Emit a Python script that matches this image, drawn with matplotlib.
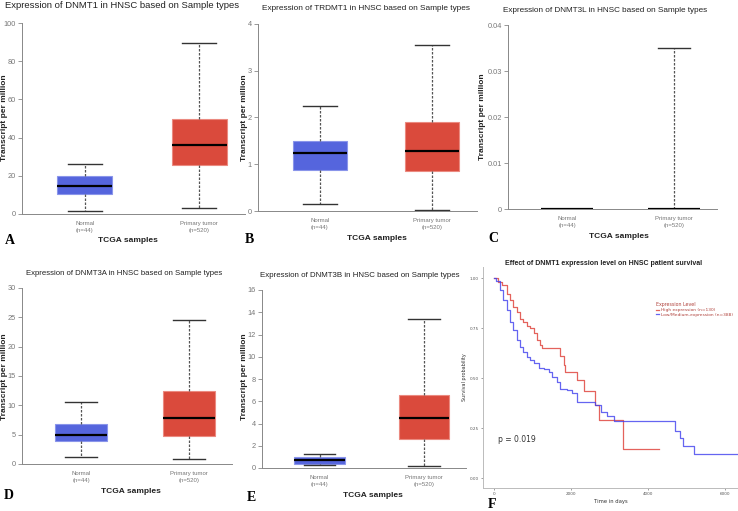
import matplotlib
matplotlib.use('Agg')
import matplotlib.pyplot as plt
from matplotlib import font_manager

# box plot summaries (TPM)
genes = ['DNMT1', 'TRDMT1', 'DNMT3L', 'DNMT3A', 'DNMT3B']
normal_low = [1.5, 0.15, 0.0, 1.2, 0.25]
normal_q1 = [10.5, 0.87, 0.0, 4.0, 0.40]
normal_med = [14.5, 1.25, 0.0, 5.0, 0.70]
normal_q3 = [19.8, 1.49, 0.0, 6.8, 1.00]
normal_high = [26.3, 2.25, 0.0, 10.5, 1.25]
tumor_low = [3.0, 0.03, 0.0, 0.8, 0.15]
tumor_q1 = [25.8, 0.85, 0.0, 4.8, 2.6]
tumor_med = [36.0, 1.28, 0.0, 7.8, 4.45]
tumor_q3 = [49.5, 1.90, 0.0, 12.4, 6.6]
tumor_high = [89.7, 3.55, 0.035, 24.5, 13.4]
y_max = [100, 4, 0.04, 30, 16]
y_step = [20, 1, 0.01, 5, 2]
y_fmt = ['%d', '%d', '%g', '%d', '%d']
sample_labels = ['Normal\n(n=44)', 'Primary tumor\n(n=520)']
panel_letters = ['A', 'B', 'C', 'D', 'E']

# Kaplan-Meier curves (days, survival probability)
hi_days = [0, 113, 200, 330, 418, 505, 592, 679, 766, 853, 940, 1027, 1114, 1200, 1244,
           1723, 1810, 1853, 2158, 2349, 2619, 2740, 3358, 4280]
hi_surv = [1.0, 0.980, 0.963, 0.922, 0.889, 0.855, 0.831, 0.797, 0.781, 0.759, 0.752, 0.723,
           0.689, 0.664, 0.648, 0.610, 0.565, 0.532, 0.490, 0.437, 0.365, 0.290, 0.146, 0.146]
lo_days = [0, 60, 157, 244, 330, 418, 505, 592, 679, 766, 853, 940, 1027, 1157, 1288, 1418,
           1505, 1636, 1723, 1897, 2027, 2158, 2636, 2767, 2941, 3115, 4707, 4828, 4898, 5203, 6400]
lo_surv = [1.0, 0.985, 0.938, 0.889, 0.839, 0.781, 0.739, 0.689, 0.656, 0.631, 0.606, 0.590,
           0.573, 0.548, 0.543, 0.532, 0.507, 0.482, 0.444, 0.440, 0.424, 0.382, 0.365, 0.332,
           0.312, 0.287, 0.233, 0.199, 0.158, 0.121, 0.121]

names = {f.name for f in font_manager.fontManager.ttflist}
narrow = 'Liberation Sans Narrow' if 'Liberation Sans Narrow' in names else 'Liberation Sans'
tscale = 1.14 if narrow == 'Liberation Sans Narrow' else 1.0

W, H = 738.0, 511.0
fig = plt.figure(figsize=(7.38, 5.11), dpi=100)


def box(l, t, r, b):
    return [l / W, 1 - b / H, (r - l) / W, (b - t) / H]


def ftext(x, y, s, **kw):
    fig.text(x / W, 1 - y / H, s, **kw)


# pixel boxes: left, top, right, bottom
axes_px = [(22, 23, 245, 214), (258, 24, 477, 211), (508, 25, 717, 209),
           (22, 288, 232, 464), (262, 290, 466, 468)]
title_pos = [(122, 6), (366, 9), (605, 10), (124, 273), (360, 275)]
title_size = [6.8, 5.95, 5.85, 5.6, 5.65]
ylab_pos = [(5, 118), (245, 118), (483, 117), (5, 377), (244, 377)]
xlab_pos = [(128, 240), (377, 238), (619, 236), (131, 491), (373, 495)]
letter_pos = [(10, 241), (249, 239), (493, 238), (9, 495), (251, 497)]

blue, red = '#5565DD', '#DA4A3C'
for i in range(5):
    ax = fig.add_axes(box(*axes_px[i]))
    stats = [
        dict(whislo=normal_low[i], q1=normal_q1[i], med=normal_med[i], q3=normal_q3[i], whishi=normal_high[i]),
        dict(whislo=tumor_low[i], q1=tumor_q1[i], med=tumor_med[i], q3=tumor_q3[i], whishi=tumor_high[i]),
    ]
    bp = ax.bxp(stats, positions=[1, 2], widths=0.48, showfliers=False, patch_artist=True,
                whiskerprops=dict(color='#555555', lw=0.9, linestyle=(0, (2, 1.2))),
                capprops=dict(color='#333333', lw=1.0),
                medianprops=dict(color='black', lw=1.6),
                capwidths=0.3)
    for patch, c, ec in zip(bp['boxes'], [blue, red], ['#8A95EA', '#EB8A80']):
        patch.set_facecolor(c)
        patch.set_edgecolor(ec)
        patch.set_linewidth(0.8)
    ax.set_xlim(0.45, 2.4)
    ax.set_ylim(0, y_max[i])
    ticks = [k * y_step[i] for k in range(int(round(y_max[i] / y_step[i])) + 1)]
    ax.set_yticks(ticks)
    ax.set_yticklabels([y_fmt[i] % v for v in ticks], fontsize=5.3, color='#777777', family=narrow)
    ax.set_xticks([1, 2])
    ax.set_xticklabels(sample_labels, fontsize=4.3, color='#777777', family=narrow, linespacing=1.5)
    ax.tick_params(axis='x', length=0, pad=5)
    ax.tick_params(axis='y', length=3, width=0.6, color='#888888', pad=1.5)
    for s in ['top', 'right']:
        ax.spines[s].set_visible(False)
    for s in ['left', 'bottom']:
        ax.spines[s].set_color('#888888')
        ax.spines[s].set_linewidth(0.7)
    ax.set_facecolor('none')
    ftext(*title_pos[i], 'Expression of %s in HNSC based on Sample types' % genes[i],
          ha='center', va='center', fontsize=title_size[i] * tscale, family=narrow, color='#222222')
    ftext(*ylab_pos[i], 'Transcript per million', ha='center', va='center', rotation=90,
          fontsize=6, fontweight='bold', family='Liberation Sans', color='#222222')
    ftext(*xlab_pos[i], 'TCGA samples', ha='center', va='center', fontsize=6,
          fontweight='bold', family='Liberation Sans', color='#222222')
    ftext(*letter_pos[i], panel_letters[i], ha='center', va='center', fontsize=10,
          fontweight='bold', family='Liberation Serif')

# survival panel
axf = fig.add_axes(box(483, 267, 738, 488))
axf.step(hi_days, hi_surv, where='post', color='#E0473F', lw=0.9, alpha=0.85,
         label='High expression (n=130)')
axf.step(lo_days, lo_surv, where='post', color='#3F3FEE', lw=0.9, alpha=0.8,
         label='Low/Medium-expression (n=388)')
axf.set_xlim(-286, 6338)
axf.set_ylim(-0.05, 1.055)
axf.set_xticks([0, 2000, 4000, 6000])
axf.set_yticks([0, 0.25, 0.5, 0.75, 1.0])
axf.set_yticklabels(['0.00', '0.25', '0.50', '0.75', '1.00'])
axf.tick_params(labelsize=3, colors='#555555', length=1.5, width=0.4, pad=1.5)
for s in ['top', 'right']:
    axf.spines[s].set_visible(False)
for s in ['left', 'bottom']:
    axf.spines[s].set_color('#BBBBBB')
    axf.spines[s].set_linewidth(0.7)
axf.set_xlabel('Time in days', fontsize=3.8, color='#333333', labelpad=2)
axf.set_ylabel('Survival probability', fontsize=3.5, color='#333333', labelpad=2)
leg = axf.legend(loc='upper left', bbox_to_anchor=(0.67, 0.85), frameon=False, fontsize=3.2,
                 title='Expression Level', title_fontsize=3.4, handlelength=0.6,
                 handletextpad=0.4, borderpad=0, labelspacing=0.15, labelcolor='#B0413B')
leg.get_title().set_color('#B0413B')
leg._legend_box.align = 'left'
axf.text(0.06, 0.21, 'p = 0.019', transform=axf.transAxes, fontsize=5.5, color='#333333')
ftext(604, 263, 'Effect of DNMT1 expression level on HNSC patient survival', ha='center',
      va='center', fontsize=5, fontweight='bold', family='Liberation Sans', color='#222222')
ftext(492, 504, 'F', ha='center', va='center', fontsize=10, fontweight='bold',
      family='Liberation Serif')

fig.savefig('out.png', dpi=100)
